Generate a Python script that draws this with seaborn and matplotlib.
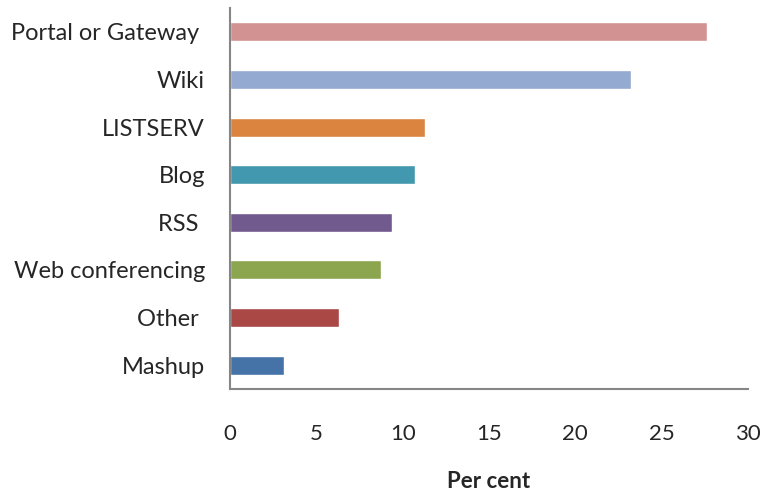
import matplotlib
matplotlib.use("Agg")
import matplotlib.pyplot as plt
import pandas as pd
import seaborn as sns

categories = ["Portal or Gateway ", "Wiki", "LISTSERV", "Blog", "RSS ",
              "Web conferencing", "Other ", "Mashup"]
per_cent = [27.6, 23.2, 11.3, 10.7, 9.4, 8.75, 6.3, 3.1]
colors = ["#D29291", "#95AAD0", "#DA843F", "#4298AE", "#715A8E",
          "#8BA64F", "#AA4845", "#4573A8"]

df = pd.DataFrame({"category": categories, "value": per_cent})

sns.set_style("white")
plt.rcParams["font.family"] = ["Lato", "DejaVu Sans"]

fig, ax = plt.subplots(figsize=(7.66, 4.93), dpi=100)
fig.subplots_adjust(left=230 / 766, right=748 / 766, top=1 - 8 / 493, bottom=1 - 389 / 493)

sns.barplot(data=df, x="value", y="category", hue="category",
            palette=dict(zip(categories, colors)), order=categories,
            width=0.4, legend=False, saturation=1, ax=ax)

ax.set_xlim(0, 30)
ax.set_xticks([0, 5, 10, 15, 20, 25, 30])
ax.tick_params(axis="x", length=0, pad=25, labelsize=16)
ax.tick_params(axis="y", length=0, pad=18, labelsize=17)
ax.set_ylabel("")
ax.set_xlabel("Per cent", fontsize=16, fontweight="bold", labelpad=20)

for side in ["top", "right"]:
    ax.spines[side].set_visible(False)
for side in ["left", "bottom"]:
    ax.spines[side].set_color("#868686")
    ax.spines[side].set_linewidth(1.5)

fig.savefig("out.png", dpi=100)
